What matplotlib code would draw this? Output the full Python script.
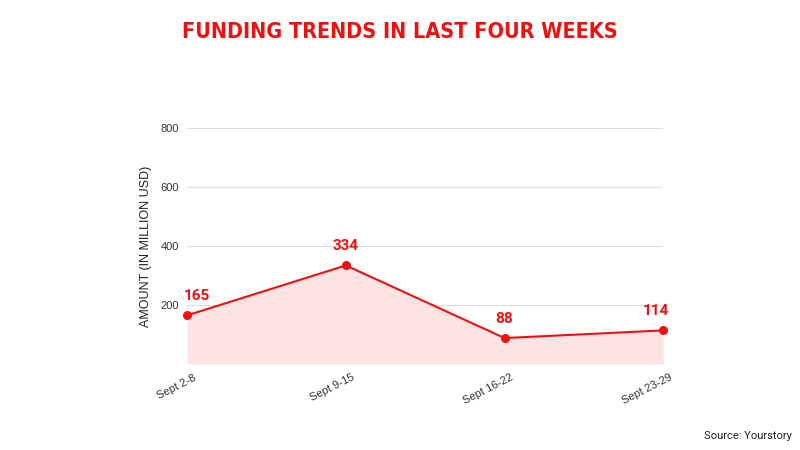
import matplotlib
matplotlib.use('Agg')
import matplotlib.pyplot as plt
import matplotlib.transforms as mtrans

## Data
weeks = ['Sept 2-8', 'Sept 9-15', 'Sept 16-22', 'Sept 23-29']
amount = [165, 334, 88, 114]
label_dx = [7, 0, 0, -5]   # nudge edge labels inward (points)

red = '#ee1111'
plt.rcParams['font.family'] = ['Liberation Sans', 'DejaVu Sans']

fig = plt.figure(figsize=(8, 4.5), dpi=100)
ax = fig.add_axes([0.234, 0.191, 0.595, 0.525])

x = range(len(weeks))
ax.fill_between(x, amount, 0, color='#fde4e4', lw=0)
ax.plot(x, amount, color=red, lw=1.5, marker='o', ms=5.5, clip_on=False, zorder=3)
for xi, v, dx in zip(x, amount, label_dx):
    ax.annotate(str(v), (xi, v), xytext=(dx, 9), textcoords='offset points',
                ha='center', va='bottom', color=red, fontsize=11, fontweight='bold',
                family=['Roboto', 'DejaVu Sans'])

ax.set_xlim(0, len(weeks) - 1)
ax.set_ylim(0, 800)
ax.set_yticks([200, 400, 600, 800])
ax.yaxis.grid(True, color='#dddddd', lw=0.8)
ax.set_axisbelow(True)
for s in ax.spines.values(): s.set_visible(False)
ax.tick_params(length=0, labelsize=8, colors='#333333')
ax.tick_params(axis='y', pad=6)
ax.tick_params(axis='x', pad=6)
ax.set_xticks(list(x))
ax.set_xticklabels(weeks, rotation=27, ha='right', rotation_mode='anchor')
shift = mtrans.ScaledTranslation(4/72, 0, fig.dpi_scale_trans)
for t in ax.get_xticklabels():
    t.set_transform(t.get_transform() + shift)
ax.set_ylabel('AMOUNT (IN MILLION USD)', fontsize=9, color='#222222', labelpad=6)

fig.text(0.5, 0.93, 'FUNDING TRENDS IN LAST FOUR WEEKS', ha='center', va='center',
         color=red, fontsize=15.5, fontweight='bold', fontstretch='condensed',
         family=['DejaVu Sans'])
fig.text(0.99, 0.032, 'Source: Yourstory', ha='right', va='center', fontsize=8,
         color='#222222', family=['Roboto', 'DejaVu Sans'])

plt.savefig('out.png', dpi=100)
